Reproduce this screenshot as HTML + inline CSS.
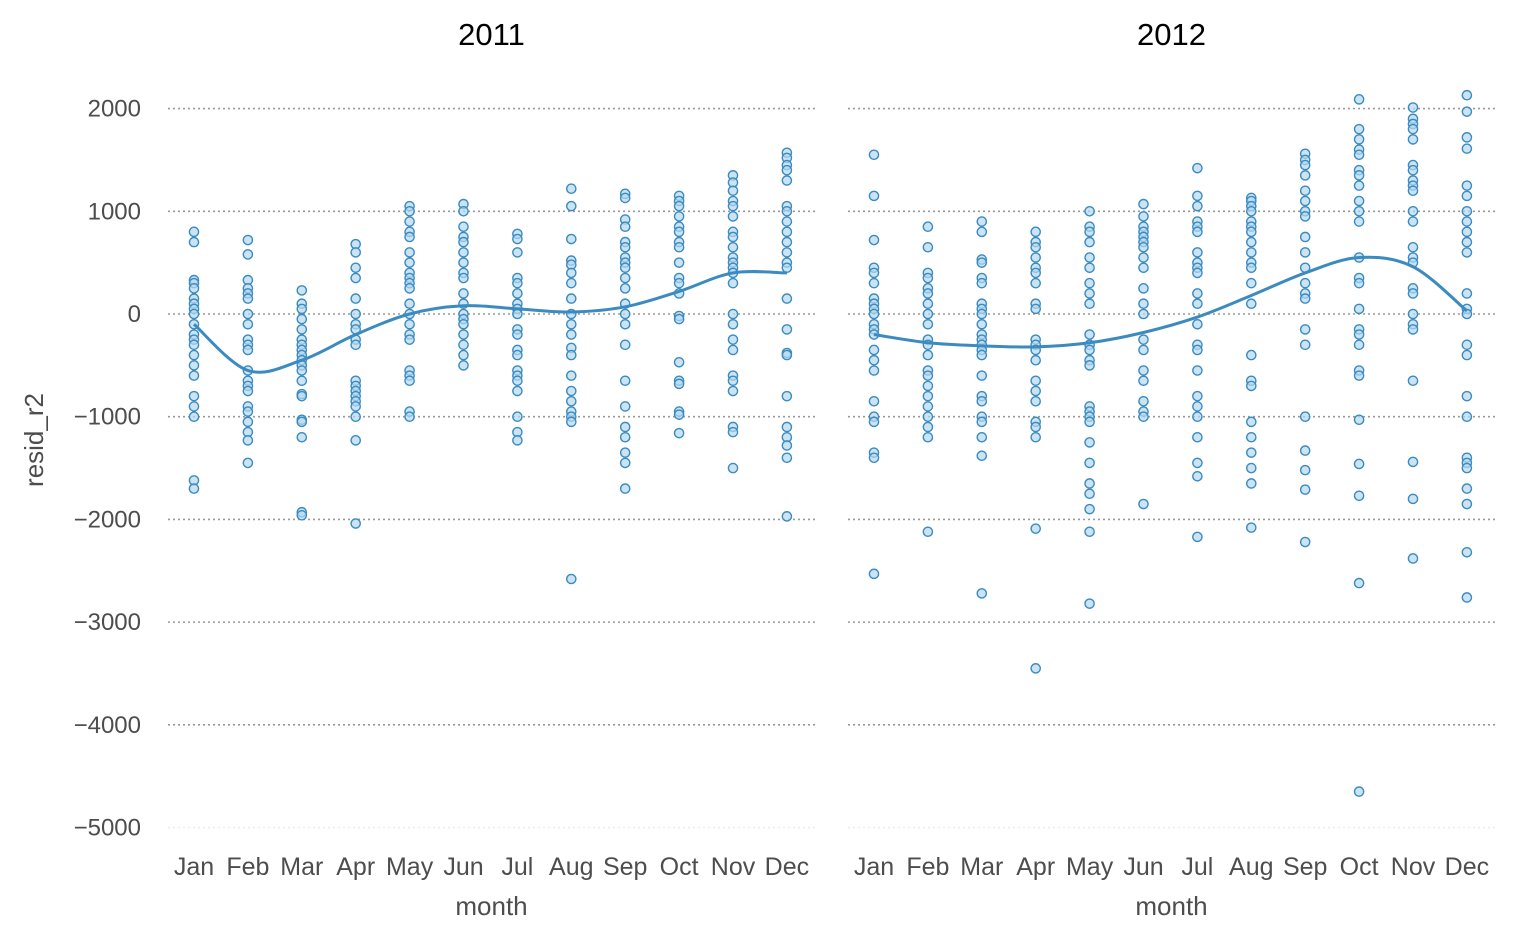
<!DOCTYPE html>
<html><head><meta charset="utf-8"><style>
html,body{margin:0;padding:0;background:#fff;}
svg{display:block;font-family:"Liberation Sans",Arial,sans-serif;}
</style></head><body>
<svg id="chart" width="1513" height="940"></svg>
<script>
const months=["Jan","Feb","Mar","Apr","May","Jun","Jul","Aug","Sep","Oct","Nov","Dec"];
const yTicks=[2000,1000,0,-1000,-2000,-3000,-4000,-5000];
const yTickLabels=["2000","1000","0","\u22121000","\u22122000","\u22123000","\u22124000","\u22125000"];
const years=["2011","2012"];
const smooth2011=[-100,-550,-450,-200,0,80,50,20,70,220,400,400];
const smooth2012=[-200,-280,-310,-320,-280,-180,-30,180,400,550,460,30];
const pts2011=[
[800,700,330,300,250,150,100,50,0,-100,-200,-250,-300,-400,-500,-600,-800,-900,-1000,-1620,-1700],
[720,580,330,250,200,150,0,-100,-250,-300,-350,-550,-650,-700,-750,-900,-950,-1050,-1150,-1230,-1450],
[230,100,50,-50,-150,-250,-300,-350,-400,-450,-500,-550,-650,-780,-800,-1030,-1050,-1200,-1930,-1960],
[680,600,450,350,150,0,-100,-150,-250,-300,-650,-700,-750,-800,-850,-900,-1000,-1230,-2040],
[1050,1000,900,800,750,600,500,400,350,300,250,100,0,-100,-200,-250,-550,-600,-650,-950,-1000],
[1070,1000,850,750,700,600,500,400,350,200,100,0,-50,-100,-200,-300,-400,-500],
[780,730,600,350,300,200,100,50,0,-150,-200,-350,-400,-550,-600,-650,-750,-1000,-1150,-1230],
[1220,1050,730,520,480,400,300,150,0,-100,-200,-330,-400,-600,-750,-850,-950,-1000,-1050,-2580],
[1170,1130,920,850,700,650,550,500,450,350,250,100,0,-100,-300,-650,-900,-1100,-1200,-1350,-1450,-1700],
[1150,1100,1050,950,850,800,700,650,500,350,300,200,-20,-50,-470,-650,-680,-950,-980,-1160],
[1350,1280,1200,1100,1050,950,800,750,650,550,500,450,400,300,0,-100,-250,-350,-600,-650,-750,-1100,-1150,-1500],
[1570,1520,1450,1400,1300,1050,1000,900,800,700,600,500,450,150,-150,-380,-400,-800,-1100,-1200,-1280,-1400,-1970]];
const pts2012=[
[1550,1150,720,450,400,300,150,100,50,0,-100,-150,-200,-350,-450,-550,-850,-1000,-1050,-1350,-1400,-2530],
[850,650,400,350,250,200,100,0,-100,-250,-300,-400,-550,-600,-700,-800,-900,-1000,-1100,-1200,-2120],
[900,800,530,500,350,300,100,50,0,-100,-200,-250,-300,-350,-400,-600,-800,-850,-1000,-1050,-1200,-1380,-2720],
[800,700,650,550,450,400,300,100,50,-250,-300,-350,-450,-650,-750,-850,-1050,-1100,-1200,-2090,-3450],
[1000,850,800,700,550,450,300,200,100,-200,-300,-350,-450,-500,-900,-950,-1000,-1050,-1250,-1450,-1650,-1750,-1900,-2120,-2820],
[1070,950,850,800,750,700,650,550,450,250,100,0,-250,-350,-550,-650,-850,-950,-1000,-1850],
[1420,1150,1050,900,850,800,600,500,450,400,200,100,-100,-300,-350,-550,-800,-900,-1000,-1200,-1450,-1580,-2170],
[1130,1100,1050,1000,900,850,800,700,600,500,450,300,100,-400,-650,-700,-1050,-1200,-1350,-1500,-1650,-2080],
[1560,1500,1450,1350,1200,1100,1000,950,750,600,450,300,200,150,-150,-300,-1000,-1330,-1520,-1710,-2220],
[2090,1800,1700,1600,1550,1400,1350,1250,1100,1000,900,550,350,300,50,-150,-200,-300,-550,-600,-1030,-1460,-1770,-2620,-4650],
[2010,1900,1850,1800,1700,1450,1400,1300,1250,1200,1000,900,650,550,500,250,200,0,-100,-150,-650,-1440,-1800,-2380],
[2130,1970,1720,1610,1250,1150,1000,900,800,700,600,200,50,0,-300,-400,-800,-1000,-1400,-1450,-1500,-1700,-1850,-2320,-2760]];

const NS="http://www.w3.org/2000/svg";
const svg=document.getElementById("chart");
function mk(tag,attrs,parent){const e=document.createElementNS(NS,tag);for(const k in attrs)e.setAttribute(k,attrs[k]);(parent||svg).appendChild(e);return e;}
const y=v=>314-v*0.10271;
const panels=[{x0:168,x1:815,xJan:194,pts:pts2011,sm:smooth2011,yr:years[0]},{x0:848,x1:1495,xJan:874,pts:pts2012,sm:smooth2012,yr:years[1]}];
const step=53.9;

yTicks.forEach((t,i)=>{
  const tx=mk("text",{x:141,y:y(t)+8,"text-anchor":"end","font-size":24,fill:"#4d4d4d"});
  tx.textContent=yTickLabels[i];
  
  
});
const yt=mk("text",{x:0,y:0,transform:"translate(43,440) rotate(-90)","text-anchor":"middle","font-size":26,fill:"#4d4d4d"});
yt.textContent="resid_r2";



panels.forEach((p,pi)=>{
  const g=mk("g",{});
  
  
  const x=i=>p.xJan+i*step;
  yTicks.forEach(t=>{
    const l=mk("line",{x1:p.x0,x2:p.x1,y1:y(t),y2:y(t),stroke:t===-5000?"#eee":"#999","stroke-width":1.6,"stroke-dasharray":"2,3"},g);
    
    
  });
  const title=mk("text",{x:(p.x0+p.x1)/2,y:45,"text-anchor":"middle","font-size":31,fill:"#000"},g);
  title.textContent=p.yr;
  
  
  months.forEach((m,i)=>{
    const t=mk("text",{x:x(i),y:875,"text-anchor":"middle","font-size":25,fill:"#4d4d4d"},g);
    t.textContent=m;
    
    
  });
  const xt=mk("text",{x:(p.x0+p.x1)/2,y:915,"text-anchor":"middle","font-size":26,fill:"#4d4d4d"},g);
  xt.textContent="month";
  
  
  p.pts.forEach((arr,i)=>arr.forEach(v=>{
    const c=mk("circle",{cx:x(i),cy:y(v),r:4.6,fill:"#b5d9ef","fill-opacity":0.7,stroke:"#3b8bc0","stroke-width":1.4},g);
    
    
  }));
  const P=p.sm.map((v,i)=>[x(i),y(v)]);
  let d="M"+P[0][0]+","+P[0][1];
  for(let i=0;i<P.length-1;i++){
    const p0=P[Math.max(0,i-1)],p1=P[i],p2=P[i+1],p3=P[Math.min(P.length-1,i+2)];
    const c1=[p1[0]+(p2[0]-p0[0])/6,p1[1]+(p2[1]-p0[1])/6];
    const c2=[p2[0]-(p3[0]-p1[0])/6,p2[1]-(p3[1]-p1[1])/6];
    d+=` C${c1[0]},${c1[1]} ${c2[0]},${c2[1]} ${p2[0]},${p2[1]}`;
  }
  const path=mk("path",{d:d,fill:"none",stroke:"#3b8bc0","stroke-width":3},g);
  
  
});
</script>
</body></html>
